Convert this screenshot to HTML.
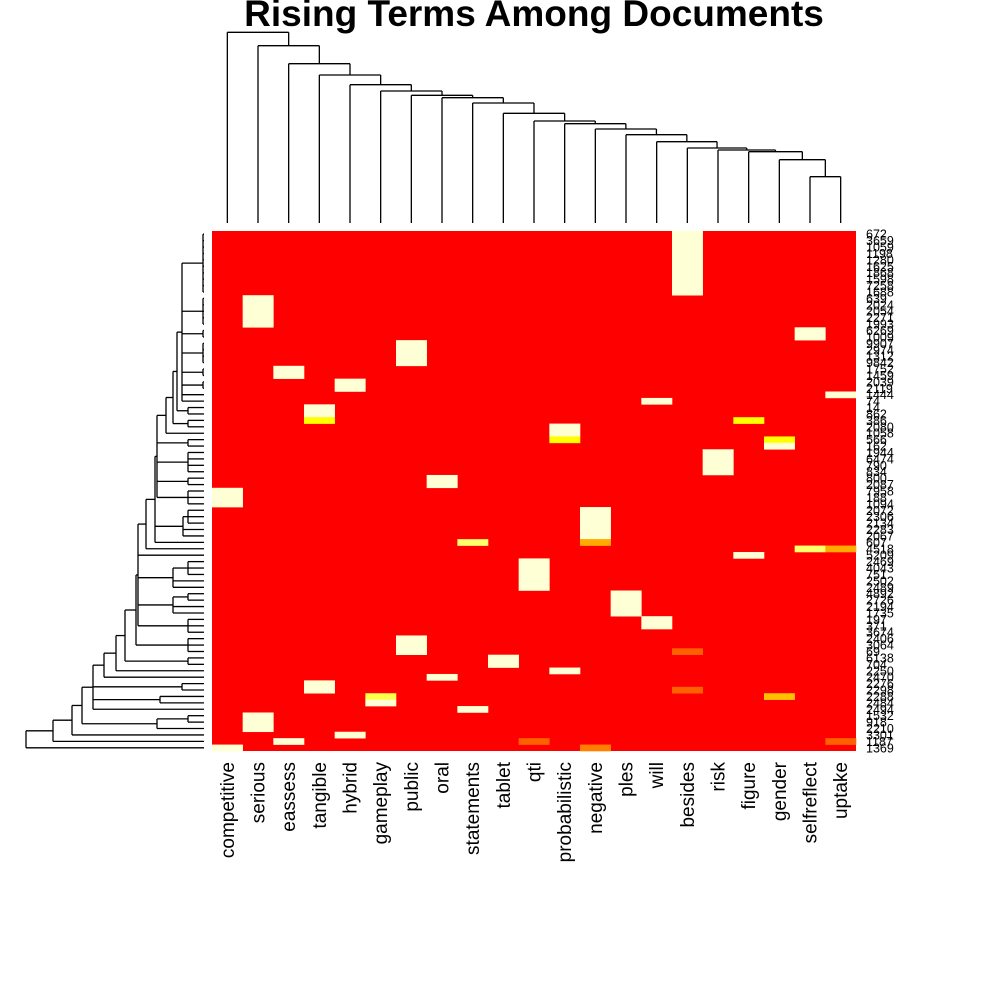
<!DOCTYPE html>
<html>
<head>
<meta charset="utf-8">
<style>
  html,body{margin:0;padding:0;background:#fff;}
  svg{display:block;}
  text{font-family:"Liberation Sans",sans-serif;}
</style>
</head>
<body>
<svg id="chart" width="1000" height="1000" viewBox="0 0 1000 1000" xmlns="http://www.w3.org/2000/svg">
  <rect x="0" y="0" width="1000" height="1000" fill="#fff"/>
  <text x="534" y="26" text-anchor="middle" font-size="37" font-weight="bold" fill="#000">Rising Terms Among Documents</text>
  <g id="cells"></g>
  <g id="topDendro"></g>
  <g id="leftDendro"></g>
  <g id="rowLabels"></g>
  <g id="colLabels"></g>
</svg>
<script>
// ---------- data ----------
const colLabels = ["competitive","serious","eassess","tangible","hybrid","gameplay","public","oral","statements","tablet","qti","probabilistic","negative","ples","will","besides","risk","figure","gender","selfreflect","uptake"];
const rowLabels = ["672","3659","1059","1198","1280","1625","1868","1598","7258","1688","639","2024","2054","2271","1993","6269","1009","9907","2974","1312","9842","1752","1459","2039","2119","1444","74","14","862","386","2080","1058","566","162","1944","6474","790","834","800","2087","7958","188","1094","2072","2306","2134","2283","2067","607","4518","5209","2469","4043","751","2502","2489","4892","2726","2194","1735","197","371","3674","2406","3064","69","6138","704","2250","2470","2276","2298","2288","2484","2494","1532","918","2210","3301","1187","1369"];
// highlighted blocks (all other cells are value 0 = red)
const blockCol      = [15,1,19,6,2,4,20,14,3,3,17,11,11,18,18,16,7,0,12,12,8,19,20,17,10,13,14,6,15,9,11,7,3,15,5,5,18,8,1,4,2,10,20,0,12];
const blockRowStart = [0,10,15,17,21,23,25,26,27,29,29,30,32,32,33,34,38,40,43,48,48,49,49,50,51,56,60,63,65,66,68,69,70,71,72,73,72,74,75,78,79,79,79,80,80];
const blockRowEnd   = [9,14,16,20,22,24,25,26,28,29,29,31,32,32,33,37,39,42,47,48,48,49,49,50,55,59,61,65,65,67,68,69,71,71,72,73,72,74,77,78,79,79,79,80,80];
const blockVal      = [1,1,1,1,1,1,1,1,1,0.7,0.7,1,0.7,0.7,1,1,1,1,1,0.5,0.85,0.85,0.5,1,1,1,1,1,0.3,1,1,1,1,0.3,0.8,1,0.55,1,1,1,1,0.3,0.3,1,0.4];
// column dendrogram merge heights (merge i joins column i with cluster of columns i+1..)
const colMergeHeights = [189.7,176.3,158.3,147,137.3,131,126.7,124.3,119,108.7,101,98.3,93,87.3,80.3,74,72,70.3,62.3,45.3];
// row dendrogram: top cluster and ladder of groups joined below it
const rowTopCluster = [22,[1,0,1,2,3,4,5,6,7,8,9],[1,10,11,12,13,14],[1,15,16],[1,17,18,19,20],[1,21,22],[1,23,24],25,26];
const rowLadderHeights = [27,31,38,47,49,58,66,68,79,88,100,111,122,132,151,178];
const rowLadderGroups = [
  [[16,27,28]],
  [[16,29,30]],
  [31],
  [[16,32,33],[16,34,35,36,37],[16,38,39],[16,40,41,42]],
  [[21,[16,43,44,45],46,47],48],
  [49],
  [50,[31,[16,51,52,53],54,55],[31,[16,56,57],58,59],[16,60,61,62]],
  [[16,63,64,65]],
  [[16,66,67]],
  [68],
  [69],
  [[22,70,71],[44,72,73],74],
  [[47,[16,75,76],77]],
  [78],
  [79],
  [80]
];
// ---------- geometry ----------
const NS="http://www.w3.org/2000/svg";
const HX0=212, HX1=856, HY0=231, HY1=751;
const nCol=colLabels.length, nRow=rowLabels.length;
const cw=(HX1-HX0)/nCol, rh=(HY1-HY0)/nRow;
function colX(i){return HX0+i*cw;}
function rowY(r){return HY0+r*rh;}
const stops=[[0,[255,0,0]],[0.4,[255,128,0]],[0.7,[255,255,0]],[1,[255,255,214]]];
function heatColor(v){
  for(let i=1;i<stops.length;i++){
    if(v<=stops[i][0]){
      const a=stops[i-1],b=stops[i],t=(v-a[0])/(b[0]-a[0]);
      const c=a[1].map((x,k)=>Math.round(x+(b[1][k]-x)*t));
      return `rgb(${c[0]},${c[1]},${c[2]})`;
    }
  }
  return 'rgb(255,255,214)';
}
function mk(tag,attrs,parent){const e=document.createElementNS(NS,tag);for(const k in attrs)e.setAttribute(k,attrs[k]);parent.appendChild(e);return e;}
// ---------- heatmap ----------
const gC=document.getElementById('cells');
const bg=mk('rect',{x:HX0,y:HY0,width:HX1-HX0,height:HY1-HY0,fill:heatColor(0)},gC);


for(let b=0;b<blockCol.length;b++){
  const r=mk('rect',{x:colX(blockCol[b]),y:rowY(blockRowStart[b]),width:cw+0.3,height:(blockRowEnd[b]-blockRowStart[b]+1)*rh+0.3,fill:heatColor(blockVal[b])},gC);
  
  
}
// ---------- labels ----------
const gR=document.getElementById('rowLabels');
rowLabels.forEach((l,i)=>{
  const t=mk('text',{x:866,y:rowY(i)+rh/2+4.5,'font-size':12.5,fill:'#000'},gR);
  t.textContent=l;
  
  
});
const gL=document.getElementById('colLabels');
colLabels.forEach((l,i)=>{
  const x=colX(i)+cw/2+6.5, y=762;
  const t=mk('text',{x:x,y:y,'font-size':19,fill:'#000','text-anchor':'end',transform:`rotate(-90 ${x} ${y})`},gL);
  t.textContent=l;
  
  
});
// ---------- column dendrogram ----------
const gT=document.getElementById('topDendro');
const TBASE=223;
function ty(h){return 222-h;}
function line(g,x1,y1,x2,y2,name){
  const e=mk('line',{x1:x1,y1:y1,x2:x2,y2:y2,stroke:'#000','stroke-width':1.3},g);
  
  
}
let cCenter=colX(nCol-1)+cw/2, cH=-1;
for(let i=colMergeHeights.length-1;i>=0;i--){
  const lx=colX(i)+cw/2, h=colMergeHeights[i];
  line(gT,lx,TBASE,lx,ty(h),'column-dendrogram-branch');
  line(gT,cCenter,cH<0?TBASE:ty(cH),cCenter,ty(h),'column-dendrogram-branch');
  line(gT,lx,ty(h),cCenter,ty(h),'column-dendrogram-link');
  cCenter=(lx+cCenter)/2; cH=h;
}
// ---------- row dendrogram ----------
const gD=document.getElementById('leftDendro');
const LX=204;
function lx(d){return LX-d;}
function layoutNode(n){
  if(typeof n==='number') return {y:rowY(n)+rh/2,d:0};
  const d=n[0];
  const kids=n.slice(1).map(layoutNode);
  let mn=Infinity,mx=-Infinity;
  kids.forEach(k=>{mn=Math.min(mn,k.y);mx=Math.max(mx,k.y);line(gD,lx(k.d),k.y,lx(d),k.y,'row-dendrogram-branch');});
  line(gD,lx(d),mn,lx(d),mx,'row-dendrogram-link');
  return {y:(kids[0].y+kids[kids.length-1].y)/2,d:d};
}
let tree=rowTopCluster;
for(let i=0;i<rowLadderHeights.length;i++){
  tree=[rowLadderHeights[i],tree].concat(rowLadderGroups[i]);
}
layoutNode(tree);
</script>
</body>
</html>
